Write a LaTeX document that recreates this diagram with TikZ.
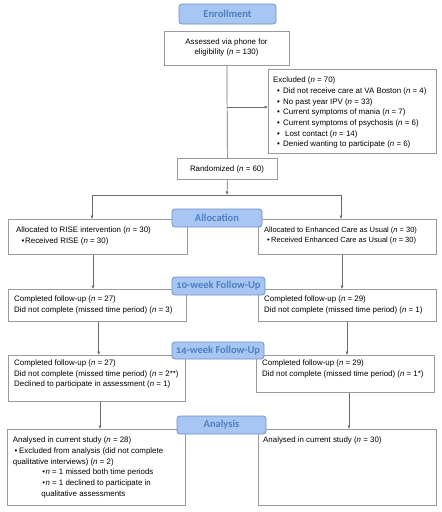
\documentclass[tikz,border=0pt]{standalone}
\usepackage{fontspec}
\setmainfont{Liberation Sans}
\newfontfamily\hdrfont[Numbers=OldStyle]{Carlito}
\usetikzlibrary{arrows.meta}
\definecolor{hdrfill}{HTML}{A8C6F4}
\definecolor{hdrborder}{HTML}{6F8FC2}
\definecolor{hdrtext}{HTML}{4D80C2}
\definecolor{boxline}{HTML}{9A9A9A}
\definecolor{conline}{HTML}{6A6A6A}
\newcommand{\nn}{\textit{n}}
\newcommand{\bul}[2]{\hspace*{#1}\makebox[#2][l]{•}}
\tikzset{
  box/.style={draw=boxline, line width=0.8pt, fill=white, rectangle, inner sep=0pt},
  hdr/.style={draw=hdrborder, line width=0.8pt, fill=hdrfill, rounded corners=3pt,
    text=hdrtext, font=\hdrfont\bfseries\fontsize{10.5}{12}\selectfont, inner sep=0pt},
  txt/.style={inner sep=0pt, anchor=north west, align=left, font=\fontsize{7.9}{10.7}\selectfont},
  ctxt/.style={inner sep=0pt, anchor=north, align=center, font=\fontsize{7.9}{10}\selectfont},
  conn/.style={draw=conline, line width=0.7pt},
  arr/.style={conn, -{Latex[length=3.5pt,width=3.2pt]}},
}
\newcommand{\bx}[5]{\node[box, anchor=north west, minimum width=#4-#2, minimum height=#5-#3] (#1) at (#2,#3) {};}
\begin{document}
\begin{tikzpicture}[x=1pt,y=-1pt]
\useasboundingbox (0,0) rectangle (442,512);

% boxes
\bx{assess}{164}{31}{289}{65}
\bx{excl}{268}{69}{436}{153}
\bx{rand}{177}{158}{277}{179}
\bx{allocL}{8}{219}{187}{254}
\bx{allocR}{258}{219}{436}{254}
\bx{fuL}{8}{289}{186}{321}
\bx{fuR}{258}{289}{436}{321}
\bx{fwL}{8}{355}{185}{401}
\bx{fwR}{256}{355}{434}{392}
\bx{anL}{7}{429}{185}{505}
\bx{anR}{258}{429}{436}{505}

% texts
\node[ctxt] (tassess) at (226.5,37.3) {\strut Assessed via phone for\\eligibility (\nn{} = 130)};
\node[txt] (texcl) at (273,75) {\strut Excluded (\nn{} = 70)\\
\bul{3.8pt}{6.2pt}Did not receive care at VA Boston (\nn{} = 4)\\
\bul{3.8pt}{6.2pt}No past year IPV (\nn{} = 33)\\
\bul{3.8pt}{6.2pt}Current symptoms of mania (\nn{} = 7)\\
\bul{3.8pt}{6.2pt}Current symptoms of psychosis (\nn{} = 6)\\
\bul{3.8pt}{8.2pt}Lost contact (\nn{} = 14)\\
\bul{3.8pt}{6.2pt}Denied wanting to participate (\nn{} = 6)};
\node[ctxt, font=\fontsize{7.9}{10.7}\selectfont] (trand) at (227,164) {\strut Randomized (\nn{} = 60)};
\node[txt] (tallocL) at (16,225) {\strut Allocated to RISE intervention (\nn{} = 30)\\
\bul{5.5pt}{3.5pt}Received RISE (\nn{} = 30)};
\node[txt, font=\fontsize{7.5}{10.2}\selectfont] (tallocR) at (264,225) {\strut Allocated to Enhanced Care as Usual (\nn{} = 30)\\
\bul{2.8pt}{4.2pt}Received Enhanced Care as Usual (\nn{} = 30)};
\node[txt] (tfuL) at (14,294) {\strut Completed follow-up (\nn{} = 27)\\
Did not complete (missed time period) (\nn{} = 3)};
\node[txt] (tfuR) at (264,294) {\strut Completed follow-up (\nn{} = 29)\\
Did not complete (missed time period) (\nn{} = 1)};
\node[txt] (tfwL) at (14,357.7) {\strut Completed follow-up (\nn{} = 27)\\
Did not complete (missed time period) (\nn{} = 2**)\\
Declined to participate in assessment (\nn{} = 1)};
\node[txt] (tfwR) at (262,357.7) {\strut Completed follow-up (\nn{} = 29)\\
Did not complete (missed time period) (\nn{} = 1*)};
\node[txt] (tanL) at (12.7,435) {\strut Analysed in current study (\nn{} = 28)\\
\bul{1.8pt}{4.5pt}Excluded from analysis (did not complete\\
qualitative interviews) (\nn{} = 2)\\
\bul{29.4pt}{3.3pt}\nn{} = 1 missed both time periods\\
\bul{29.4pt}{3.3pt}\nn{} = 1 declined to participate in\\
\hspace*{28.6pt}qualitative assessments};
\node[txt] (tanR) at (263,435) {\strut Analysed in current study (\nn{} = 30)};

% connectors
\coordinate (exb) at (227,107);
\coordinate (split) at (227,195);
\coordinate (splL) at (92,195);
\coordinate (splR) at (341,195);
\draw[conn] (assess.south) -- (rand.north);
\draw[arr] (exb) -- (exb -| excl.west);
\draw[arr] (rand.south) -- (split);
\draw[conn] (splL) -- (splR);
\draw[arr] (splL) -- (splL |- allocL.north);
\draw[arr] (splR) -- (splR |- allocR.north);
\draw[arr] ([xshift=85pt]allocL.south west) -- ([xshift=85pt]allocL.south west |- fuL.north);
\draw[arr] ([xshift=84pt]allocR.south west) -- ([xshift=84pt]allocR.south west |- fuR.north);
\draw[arr] ([xshift=90.7pt]fuL.south west) -- ([xshift=90.7pt]fuL.south west |- fwL.north);
\draw[arr] ([xshift=89pt]fuR.south west) -- ([xshift=89pt]fuR.south west |- fwR.north);
\draw[arr] ([xshift=92pt]fwL.south west) -- ([xshift=92pt]fwL.south west |- anL.north);
\draw[arr] ([xshift=93pt]fwR.south west) -- ([xshift=93pt]fwR.south west |- anR.north);

% headers
\node[hdr, minimum width=97pt, minimum height=20pt] (henroll) at (227.5,14) {Enrollment};
\node[hdr, minimum width=90pt, minimum height=18pt] (halloc) at (217,218) {Allocation};
\node[hdr, minimum width=93pt, minimum height=18pt] (hten) at (218.5,286) {10-week Follow-Up};
\node[hdr, minimum width=92pt, minimum height=17pt] (hfourteen) at (218,350.5) {14-week Follow-Up};
\node[hdr, minimum width=89pt, minimum height=18pt] (hanal) at (221.5,425) {Analysis};
\end{tikzpicture}
\end{document}
